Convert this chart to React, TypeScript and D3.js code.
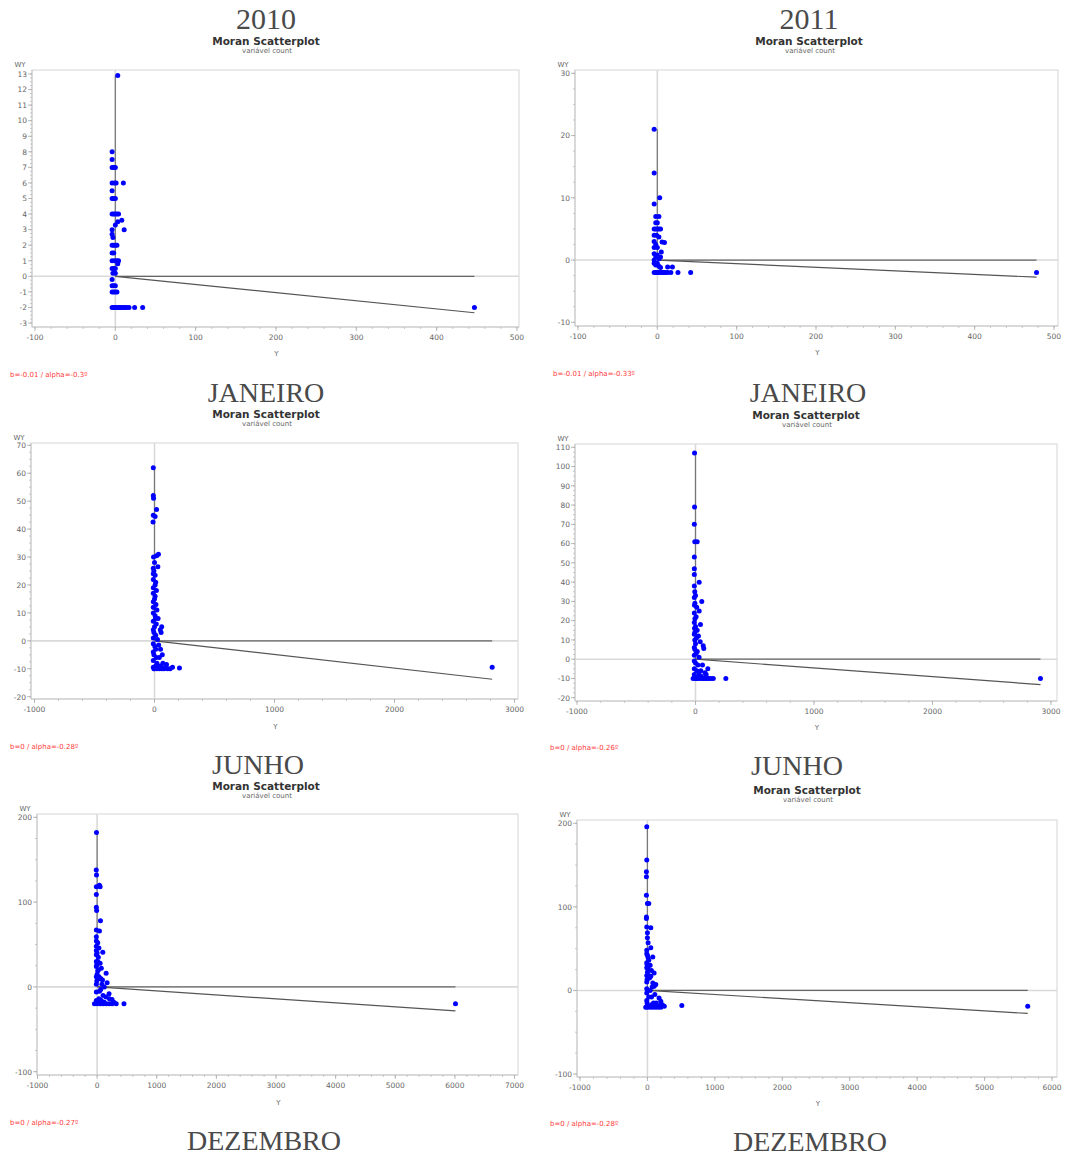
import React from "react";
import * as d3 from "d3";

// Moran scatterplots of the variable "count" (Y vs spatially lagged WY)

const years = ["2010", "2011"];
const months = ["JANEIRO", "JUNHO", "DEZEMBRO"];

// [Y, WY] pairs per month/year
const pointsJan2010: [number, number][] = [
  [3, 12.9], [-4, 8], [-4, 7.5], [-4, 7], [-2, 7], [0, 7], [-4, 6], [-1, 6], [1, 6], [10, 6],
  [-4, 5.5], [-4, 5], [-2, 5], [0, 5], [-4, 4], [-2, 4], [0, 4], [2, 4], [4, 4], [8, 3.6],
  [3, 3.5], [0, 3.3], [-4, 3], [11, 3], [-4, 2.7], [-3, 2.5], [-4, 2], [-2, 2], [0, 2], [2, 2],
  [-4, 1.5], [-2, 1.5], [-4, 1], [-1, 1], [2, 1], [4, 1], [3, 0.8], [-4, 0.5], [-2, 0.5], [0, 0.5],
  [-3, 0.2], [0, 0.2], [-4, -0.2], [-4, -0.6], [-2, -0.6], [0, -0.6], [-4, -1], [-2, -1], [0, -1], [2, -1],
  [-4, -2], [-2, -2], [0, -2], [2, -2], [4, -2], [6, -2], [8, -2], [10, -2], [12, -2], [14, -2],
  [17, -2], [24, -2], [34, -2], [447, -2],
];
const pointsJan2011: [number, number][] = [
  [-4, 21], [-4, 14], [3, 10], [-4, 9], [-2, 7], [2, 7], [-2, 6], [0, 6], [-4, 5], [-2, 5],
  [0, 5], [2, 5], [4, 5], [-4, 4], [-1, 4], [2, 3.7], [6, 2.9], [9, 2.8], [-4, 3], [-2, 2.5],
  [0, 2], [-4, 2], [5, 1.3], [-4, 1], [-2, 0.5], [0, 0.8], [2, 0.2], [4, 0.5], [-4, 0], [-4, -0.5],
  [-2, -0.8], [0, -0.5], [2, -1], [4, -1.2], [13, -1.1], [19, -1.1], [-4, -2], [-2, -2], [0, -2], [2, -2],
  [4, -2], [6, -2], [8, -2], [10, -2], [13, -2], [17, -2], [26, -2], [42, -2], [478, -2],
];
const pointsJun2010: [number, number][] = [
  [-10, 62], [-10, 52], [-8, 51], [17, 47], [-10, 45], [5, 44.5], [-12, 42.5], [-8, 30], [17, 30.5], [33, 31],
  [-10, 26], [28, 26.5], [-10, 24], [5, 23.5], [-10, 22], [10, 21], [-10, 19], [16, 18], [-10, 17], [5, 16],
  [-10, 14], [12, 13], [-10, 12], [20, 11], [-10, 10], [5, 9], [30, 8], [-10, 7], [15, 6], [48, 4],
  [55, 3], [60, 5], [-10, 4], [10, 2], [-10, 1], [25, 0.5], [-10, -1], [35, -1.5], [50, -3], [10, -3],
  [-10, -4], [65, -5], [40, -6], [-10, -7], [70, -8], [20, -8], [100, -8.5], [-10, -9.5], [0, -10], [20, -10],
  [40, -10], [60, -10], [80, -10], [110, -10], [150, -9.5], [208, -9.7], [2814, -9.5],
  [0, 28], [-5, 25], [5, 20], [0, 15], [-5, 12], [8, 8], [0, 5], [-5, 3], [3, -2], [-5, -5],
  [15, -6], [30, -9], [10, -9], [50, -9], [90, -9.5], [130, -10], [-5, -10],
];
const pointsJun2011: [number, number][] = [
  [-8, 107], [-8, 79], [-10, 70], [-6, 61], [14, 61], [-10, 53], [-10, 47], [-10, 44], [31, 40], [-10, 38],
  [-6, 35], [-10, 32], [53, 30], [-8, 28], [10, 27], [31, 25], [-10, 24], [-5, 21], [-10, 19], [42, 18],
  [-8, 16], [14, 15], [-10, 13], [25, 12], [-6, 10], [40, 9], [65, 7], [-10, 6], [70, 5.5], [15, 4],
  [-10, 2], [30, 1], [-10, -1], [59, -3], [20, -3], [-10, -5], [104, -5], [45, -6], [80, -7], [-10, -8],
  [-20, -10], [0, -10], [20, -10], [40, -10], [60, -10], [80, -10], [100, -10], [130, -10], [256, -10], [2911, -10],
  [0, 33], [-5, 29], [5, 22], [0, 17], [-5, 14], [8, 11], [0, 8], [-5, 5], [5, 3], [0, -2],
  [10, -6], [30, -8], [-5, -9], [10, -10], [50, -9], [70, -10], [110, -10], [150, -10], [90, -8],
];
const pointsDez2010: [number, number][] = [
  [-11, 182], [-15, 138], [-11, 132], [-13, 118], [39, 120], [50, 118], [-13, 109], [-13, 94], [-8, 90], [56, 78],
  [-13, 67], [39, 66], [-13, 59], [-13, 54], [10, 52], [-13, 48], [30, 46], [-13, 43], [95, 41], [-13, 38],
  [20, 35], [-13, 30], [50, 28], [-13, 24], [70, 22], [10, 19], [151, 16], [-13, 12], [40, 10], [90, 8],
  [168, 5], [-13, 3], [120, 0], [60, -3], [-13, -6], [200, -8], [100, -10], [207, -14], [30, -14], [-13, -16],
  [-45, -20], [0, -20], [50, -20], [100, -20], [150, -20], [200, -20], [250, -20], [320, -20], [450, -20], [6010, -20],
  [0, 40], [10, 30], [-5, 26], [20, 20], [0, 15], [30, 12], [60, 10], [-5, 7], [80, 3], [40, -5],
  [150, -12], [250, -15], [280, -18], [120, -18], [-5, -18], [70, -16],
];
const pointsDez2011: [number, number][] = [
  [-10, 196], [-10, 156], [-15, 142], [-15, 136], [-15, 114], [0, 104], [20, 104], [-15, 88], [-15, 86], [-10, 76],
  [50, 75], [0, 69], [0, 63], [10, 57], [50, 51], [79, 40], [-10, 48], [-10, 44], [20, 36], [-10, 33],
  [40, 30], [-10, 27], [60, 24], [99, 21], [-10, 18], [30, 15], [-10, 10], [124, 7], [70, 4], [-10, 2],
  [40, 0], [-10, -3], [110, -5], [60, -8], [173, -9], [198, -13], [-10, -12], [130, -15], [-25, -20], [0, -20],
  [40, -20], [80, -20], [120, -20], [160, -20], [200, -20], [250, -19], [510, -18], [5640, -19],
  [0, 42], [10, 39], [-5, 31], [10, 27], [0, 22], [20, 18], [50, 17], [-5, 13], [80, 9], [100, 5],
  [20, -8], [-5, -15], [90, -15], [220, -17], [180, -18], [60, -17],
];

// regression angle (degrees) per panel: Jan2010, Jan2011, Jun2010, Jun2011, Dez2010, Dez2011
const alphas = [-0.3, -0.33, -0.28, -0.26, -0.27, -0.28];

// axis tick values
const xTicksJan = [-100, 0, 100, 200, 300, 400, 500];
const xTicksJun = [-1000, 0, 1000, 2000, 3000];
const xTicksDez2010 = [-1000, 0, 1000, 2000, 3000, 4000, 5000, 6000, 7000];
const xTicksDez2011 = [-1000, 0, 1000, 2000, 3000, 4000, 5000, 6000];
const yTicksJan2010 = [-3, -2, -1, 0, 1, 2, 3, 4, 5, 6, 7, 8, 9, 10, 11, 12, 13];
const yTicksJan2011 = [-10, 0, 10, 20, 30];
const yTicksJun2010 = [-20, -10, 0, 10, 20, 30, 40, 50, 60, 70];
const yTicksJun2011 = [-20, -10, 0, 10, 20, 30, 40, 50, 60, 70, 80, 90, 100, 110];
const yTicksDez = [-100, 0, 100, 200];

type Layout = {
  frame: [number, number, number, number]; // left, top, right, bottom
  xr: [number, number];
  yr: [number, number];
  cx: number;
  yearY?: number;
  headY: number;
  axisLabelY: number;
  noteX: number;
  noteY: number;
  monthX: number;
  monthY: number;
};

type PanelSpec = {
  year: string;
  month: string;
  points: [number, number][];
  xTicks: number[];
  yTicks: number[];
  alpha: number;
  layout: Layout;
};

const SANS = "'DejaVu Sans', Verdana, sans-serif";
const SERIF = "'Liberation Serif', 'DejaVu Serif', serif";

function Panel({ spec }: { spec: PanelSpec }) {
  const { layout: L, points, xTicks, yTicks, alpha } = spec;
  const [fl, ft, fr, fb] = L.frame;
  const x = d3.scaleLinear().domain([xTicks[0], xTicks[xTicks.length - 1]]).range(L.xr);
  const y = d3.scaleLinear().domain([yTicks[0], yTicks[yTicks.length - 1]]).range(L.yr);

  const xStep = xTicks[1] - xTicks[0];
  const yStep = yTicks[1] - yTicks[0];
  const xMinor = d3.range(xTicks[0], xTicks[xTicks.length - 1] + 1e-9, xStep / 5);
  const yMinor = d3.range(yTicks[0], yTicks[yTicks.length - 1] + 1e-9, yStep / 4);

  const b = Math.tan((alpha * Math.PI) / 180);
  const xMax = d3.max(points, (p) => p[0]) as number;
  const yMax = d3.max(points, (p) => p[1]) as number;
  const bRounded = Math.round(b * 100) / 100;
  const bText = bRounded === 0 ? "0" : String(bRounded);
  const note = `b=${bText} / alpha=${alpha}º`;

  const line = d3.line<[number, number]>().x((d) => x(d[0])).y((d) => y(d[1]));

  return (
    <g>
      {spec.year && L.yearY !== undefined && (
        <text x={L.cx} y={L.yearY} textAnchor="middle" fontFamily={SERIF} fontSize={30} fill="#4a4a4a">
          {spec.year}
        </text>
      )}
      <text x={L.cx} y={L.headY} textAnchor="middle" fontFamily={SANS} fontWeight="bold" fontSize={10.5} fill="#333">
        Moran Scatterplot
      </text>
      <text x={L.cx + 1} y={L.headY + 8} textAnchor="middle" fontFamily={SANS} fontSize={7} fill="#666">
        variável count
      </text>

      {/* plot frame */}
      <rect x={fl} y={ft} width={fr - fl} height={fb - ft} fill="#fff" stroke="#dcdcdc" strokeWidth={1.2} />

      {/* light reference axes through the origin */}
      <line x1={x(0)} x2={x(0)} y1={ft} y2={fb} stroke="#d9d9d9" strokeWidth={1.6} />
      <line x1={fl} x2={fr} y1={y(0)} y2={y(0)} stroke="#d9d9d9" strokeWidth={1.6} />

      {/* left axis */}
      <line x1={fl} x2={fl} y1={ft} y2={fb} stroke="#c8c8c8" strokeWidth={1} />
      {yMinor.map((v, i) => (
        <line key={"ym" + i} x1={fl - 2} x2={fl} y1={y(v)} y2={y(v)} stroke="#bbb" strokeWidth={0.8} />
      ))}
      {yTicks.map((v) => (
        <g key={"yt" + v}>
          <line x1={fl - 4} x2={fl} y1={y(v)} y2={y(v)} stroke="#aaa" strokeWidth={0.8} />
          <text x={fl - 5} y={y(v) + 2.8} textAnchor="end" fontFamily={SANS} fontSize={7.5} fill="#666">
            {v}
          </text>
        </g>
      ))}
      <text x={fl - 12} y={ft - 3} textAnchor="middle" fontFamily={SANS} fontSize={7} fill="#666">
        WY
      </text>

      {/* bottom axis */}
      <line x1={fl} x2={fr} y1={fb} y2={fb} stroke="#c8c8c8" strokeWidth={1} />
      {xMinor.map((v, i) => (
        <line key={"xm" + i} x1={x(v)} x2={x(v)} y1={fb} y2={fb + 2} stroke="#bbb" strokeWidth={0.8} />
      ))}
      {xTicks.map((v) => (
        <g key={"xt" + v}>
          <line x1={x(v)} x2={x(v)} y1={fb} y2={fb + 4} stroke="#aaa" strokeWidth={0.8} />
          <text x={x(v)} y={fb + 13} textAnchor="middle" fontFamily={SANS} fontSize={7.5} fill="#666">
            {v}
          </text>
        </g>
      ))}
      <text x={(fl + fr) / 2 + 1} y={L.axisLabelY} textAnchor="middle" fontFamily={SANS} fontSize={7} fill="#666">
        Y
      </text>

      {/* quadrant guides and regression line */}
      <path d={line([[0, 0], [0, yMax]]) as string} stroke="#777" strokeWidth={1.2} fill="none" />
      <path d={line([[0, 0], [xMax, 0]]) as string} stroke="#666" strokeWidth={1.2} fill="none" />
      <path d={line([[0, 0], [xMax, b * xMax]]) as string} stroke="#555" strokeWidth={1.2} fill="none" />

      {points.map((p, i) => (
        <circle key={i} cx={x(p[0])} cy={y(p[1])} r={2.5} fill="#0000ff" />
      ))}

      <text x={L.noteX} y={L.noteY} fontFamily={SANS} fontSize={7} fill="#ff3b3b">
        {note}
      </text>
      <text x={L.monthX} y={L.monthY} textAnchor="middle" fontFamily={SERIF} fontSize={28} fill="#4a4a4a">
        {spec.month}
      </text>
    </g>
  );
}

export default function App() {
  const specs: PanelSpec[] = [
    {
      year: years[0], month: months[0], points: pointsJan2010, xTicks: xTicksJan, yTicks: yTicksJan2010, alpha: alphas[0],
      layout: { frame: [32, 70, 519, 327], xr: [35, 517], yr: [323, 74], cx: 266, yearY: 29, headY: 45, axisLabelY: 356, noteX: 10, noteY: 377, monthX: 266, monthY: 402 },
    },
    {
      year: years[1], month: months[0], points: pointsJan2011, xTicks: xTicksJan, yTicks: yTicksJan2011, alpha: alphas[1],
      layout: { frame: [575, 70, 1058, 326], xr: [578, 1054], yr: [322.3, 73.3], cx: 809, yearY: 29, headY: 45, axisLabelY: 355, noteX: 553, noteY: 376, monthX: 808, monthY: 402 },
    },
    {
      year: "", month: months[1], points: pointsJun2010, xTicks: xTicksJun, yTicks: yTicksJun2010, alpha: alphas[2],
      layout: { frame: [31, 443, 518, 699], xr: [34.5, 514.5], yr: [696.7, 445.3], cx: 266, headY: 418, axisLabelY: 729, noteX: 10, noteY: 749, monthX: 258, monthY: 774 },
    },
    {
      year: "", month: months[1], points: pointsJun2011, xTicks: xTicksJun, yTicks: yTicksJun2011, alpha: alphas[3],
      layout: { frame: [575, 444, 1057, 701], xr: [577, 1051], yr: [697.7, 447.3], cx: 806, headY: 419, axisLabelY: 730, noteX: 550, noteY: 750, monthX: 797, monthY: 775 },
    },
    {
      year: "", month: months[2], points: pointsDez2010, xTicks: xTicksDez2010, yTicks: yTicksDez, alpha: alphas[4],
      layout: { frame: [37, 814, 518, 1075], xr: [37.5, 514.5], yr: [1071.7, 817.3], cx: 266, headY: 790, axisLabelY: 1105, noteX: 10, noteY: 1125, monthX: 264, monthY: 1150 },
    },
    {
      year: "", month: months[2], points: pointsDez2011, xTicks: xTicksDez2011, yTicks: yTicksDez, alpha: alphas[5],
      layout: { frame: [577, 820, 1057, 1077], xr: [580, 1052], yr: [1074, 823.3], cx: 807, headY: 794, axisLabelY: 1106, noteX: 550, noteY: 1126, monthX: 810, monthY: 1151 },
    },
  ];

  return (
    <svg
      width={1067}
      height={1158}
      viewBox="0 0 1067 1158"
      style={{ position: "absolute", left: 0, top: 0, background: "#fff" }}
    >
      <rect x={0} y={0} width={1067} height={1158} fill="#fff" />
      {specs.map((s, i) => (
        <Panel key={i} spec={s} />
      ))}
    </svg>
  );
}
